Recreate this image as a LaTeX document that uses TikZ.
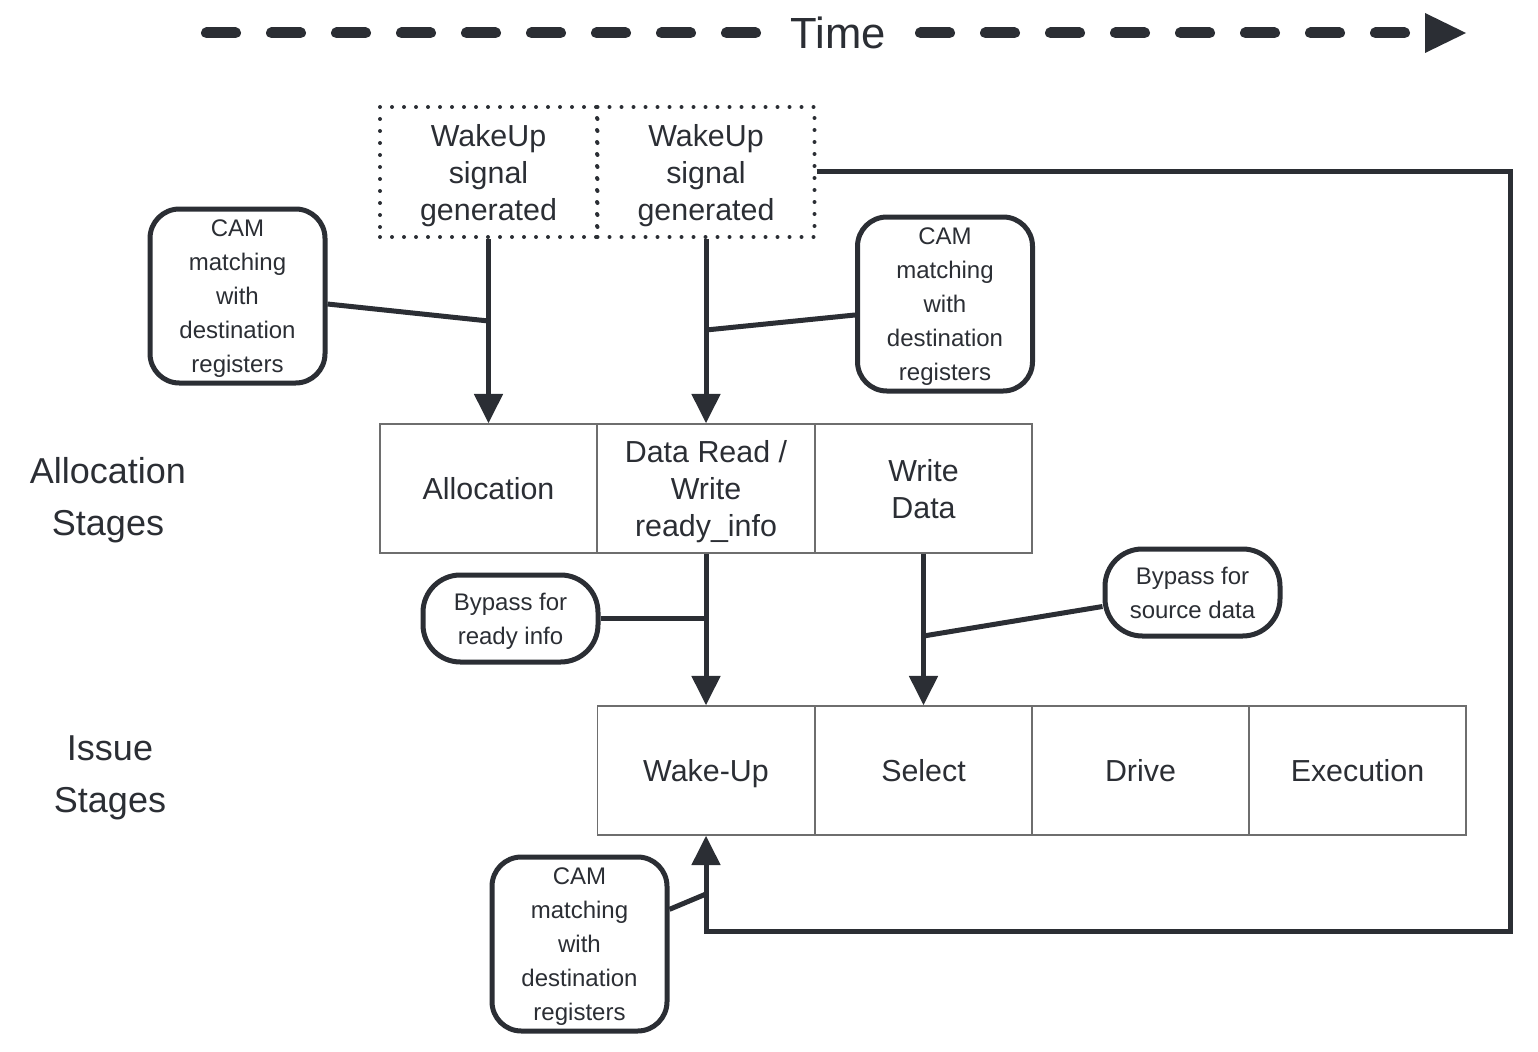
\documentclass[tikz,border=0pt]{standalone}
\usepackage{fontspec}
\setmainfont{Liberation Sans}
\usetikzlibrary{arrows.meta,calc}
\definecolor{ink}{HTML}{2B2E34}
\definecolor{cellline}{HTML}{6E6E6E}
\begin{document}
\begin{tikzpicture}[x=0.75pt,y=-0.75pt,
  every node/.style={text=ink,inner sep=0pt,text depth=0pt},
  cell/.style={draw=cellline,line width=1.1pt,minimum width=162.75pt,minimum height=96.75pt,align=center,font=\fontsize{22.8}{27.75}\selectfont},
  wake/.style={draw=ink,line width=3pt,dash pattern=on 0pt off 9pt,line cap=round,minimum width=162.75pt,minimum height=97.5pt,align=center,font=\fontsize{22.8}{27.75}\selectfont},
  cambox/.style={draw=ink,line width=3.75pt,rounded corners=22pt,minimum width=131.25pt,minimum height=130.5pt,align=center,font=\fontsize{18}{25.5}\selectfont},
  bypass/.style={draw=ink,line width=3.75pt,rounded corners=28pt,minimum width=131.25pt,minimum height=65.25pt,align=center,font=\fontsize{18}{25.5}\selectfont},
  stagelabel/.style={align=center,font=\fontsize{27}{39}\selectfont},
  conn/.style={draw=ink,line width=3.75pt},
  arr/.style={conn,-{Triangle[length=22pt,width=21pt]}},
  timedash/.style={draw=ink,line width=8.25pt,line cap=round,dash pattern=on 21.75pt off 27pt}
]
\useasboundingbox (0,0) rectangle (1538,1052);

% Time arrow
\node[font=\fontsize{32.7}{36}\selectfont] (time) at (838,33) {Time};
\coordinate (ta) at (206.5,33);
\coordinate (tb) at (755.5,33);
\coordinate (tc) at (920.5,33);
\coordinate (td) at (1404.5,33);
\coordinate (tip1) at (1425,13);
\coordinate (tip2) at (1466,33);
\coordinate (tip3) at (1425,53);
\draw[timedash] (ta) -- (tb);
\draw[timedash] (tc) -- (td);
\fill[ink] (tip1) -- (tip2) -- (tip3) -- cycle;

% Wakeup signal boxes
\node[wake] (w1) at (488.5,172) {WakeUp\\signal\\generated};
\node[wake] (w2) at (706,172) {WakeUp\\signal\\generated};

% Stage labels
\node[stagelabel] (alst) at (108,496) {Allocation\\Stages};
\node[stagelabel] (isst) at (110,774) {Issue\\Stages};

% Allocation stage cells
\node[cell] (alloc) at (488.5,488.5) {Allocation};
\node[cell] (dread) at (706,488.5) {Data Read /\\Write\\ready\_info};
\node[cell] (wdata) at (923.5,488.5) {Write\\Data};

% Issue stage cells
\node[cell] (wakeup) at (706,770.5) {Wake-Up};
\node[cell] (select) at (923.5,770.5) {Select};
\node[cell] (drive) at (1140.5,770.5) {Drive};
\node[cell] (exec) at (1357.5,770.5) {Execution};

% Annotation boxes
\node[cambox] (cam1) at (237.5,296) {CAM\\matching\\with\\destination\\registers};
\node[cambox] (cam2) at (945,304) {CAM\\matching\\with\\destination\\registers};
\node[cambox] (cam3) at (579.5,944) {CAM\\matching\\with\\destination\\registers};
\node[bypass] (by1) at (510.5,618.5) {Bypass for\\ready info};
\node[bypass] (by2) at (1192.5,592.5) {Bypass for\\source data};

% Junction points
\coordinate (j1) at (488.5,321);
\coordinate (j2) at (706,330);
\coordinate (j3) at (706,618.5);
\coordinate (j4) at (923.5,636);
\coordinate (j5) at (706,894);
\coordinate (fb) at (1510,931);

% Arrows
\draw[arr] (w1.south) -- (alloc.north);
\draw[arr] (w2.south) -- (dread.north);
\draw[arr] (dread.south) -- (wakeup.north);
\draw[arr] (wdata.south) -- (select.north);
\draw[arr,line join=miter] (w2.east) -| (fb) -| (wakeup.south);

% Annotation connectors
\draw[conn] ([yshift=-6pt]cam1.east) -- (j1);
\draw[conn] ([yshift=-8.25pt]cam2.west) -- (j2);
\draw[conn] (by1.east) -- (j3);
\draw[conn] ([yshift=-10.5pt]by2.west) -- (j4);
\draw[conn] ([yshift=26pt]cam3.east) -- (j5);
\end{tikzpicture}
\end{document}
